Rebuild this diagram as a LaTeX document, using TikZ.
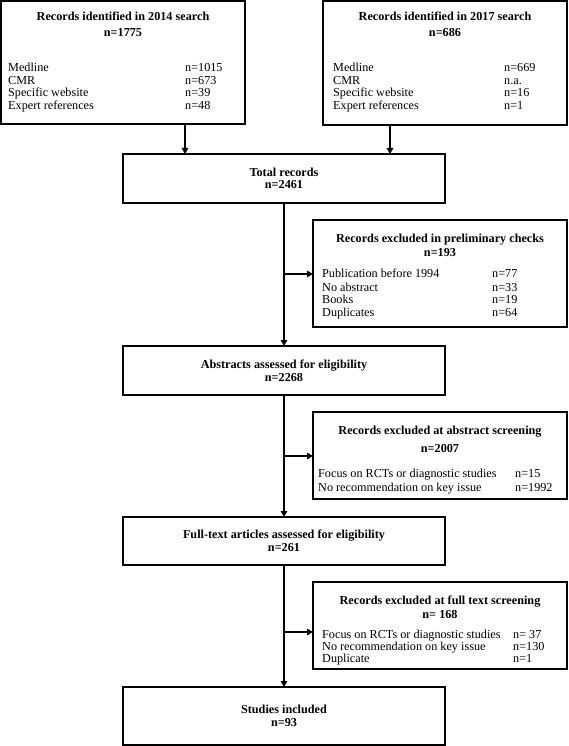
\documentclass[tikz,border=0pt]{standalone}
\usepackage{fontspec}
\setmainfont{Liberation Serif}
\usetikzlibrary{arrows.meta}
\begin{document}
\begin{tikzpicture}[x=1pt,y=-1pt,
  box/.style={draw, line width=1.1pt, rectangle, inner sep=0pt, outer sep=0pt, anchor=north west},
  txt/.style={inner sep=0pt, anchor=base west, font=\fontsize{12.2}{14}\selectfont},
  ttl/.style={inner sep=0pt, anchor=base, font=\fontsize{12.2}{14}\selectfont\bfseries},
  arr/.style={line width=1.6pt, -{Triangle[length=6pt,width=6.5pt]}}]
\useasboundingbox (0,0) rectangle (568,746);

% boxes
\node[box, minimum width=244pt, minimum height=123pt] (b14) at (1,1) {};
\node[box, minimum width=244pt, minimum height=124pt] (b17) at (323,1) {};
\node[box, minimum width=322pt, minimum height=49pt] (tot) at (123,154) {};
\node[box, minimum width=254pt, minimum height=107pt] (pre) at (313,220) {};
\node[box, minimum width=322pt, minimum height=49pt] (abs) at (123,346) {};
\node[box, minimum width=254pt, minimum height=87pt] (ascr) at (313,412) {};
\node[box, minimum width=322pt, minimum height=48pt] (ft) at (123,517) {};
\node[box, minimum width=254pt, minimum height=87pt] (fscr) at (313,582) {};
\node[box, minimum width=322pt, minimum height=58pt] (inc) at (123,687) {};

% box 2014
\node[ttl] (t14a) at (123,21) {Records identified in 2014 search};
\node[ttl] (t14b) at (123,37) {n=1775};
\node[txt] (l14a) at (8,72) {Medline};
\node[txt] (l14b) at (8,85) {CMR};
\node[txt] (l14c) at (8,97) {Specific website};
\node[txt] (l14d) at (8,110) {Expert references};
\node[txt] (n14a) at (185,72) {n=1015};
\node[txt] (n14b) at (185,85) {n=673};
\node[txt] (n14c) at (185,97) {n=39};
\node[txt] (n14d) at (185,110) {n=48};

% box 2017
\node[ttl] (t17a) at (445,21) {Records identified in 2017 search};
\node[ttl] (t17b) at (445,37) {n=686};
\node[txt] (l17a) at (333,72) {Medline};
\node[txt] (l17b) at (333,85) {CMR};
\node[txt] (l17c) at (333,97) {Specific website};
\node[txt] (l17d) at (333,110) {Expert references};
\node[txt] (n17a) at (504,72) {n=669};
\node[txt] (n17b) at (504,85) {n.a.};
\node[txt] (n17c) at (504,97) {n=16};
\node[txt] (n17d) at (504,110) {n=1};

% total
\node[ttl] (tta) at (284,176) {Total records};
\node[ttl] (ttb) at (284,189) {n=2461};

% preliminary
\node[ttl] (pra) at (440,242) {Records excluded in preliminary checks};
\node[ttl] (prb) at (440,256) {n=193};
\node[txt] (pl1) at (322,277) {Publication before 1994};
\node[txt] (pl2) at (322,291) {No abstract};
\node[txt] (pl3) at (322,303) {Books};
\node[txt] (pl4) at (322,316) {Duplicates};
\node[txt] (pn1) at (492,277) {n=77};
\node[txt] (pn2) at (492,291) {n=33};
\node[txt] (pn3) at (492,303) {n=19};
\node[txt] (pn4) at (492,316) {n=64};

% abstracts
\node[ttl] (aba) at (284,368) {Abstracts assessed for eligibility};
\node[ttl] (abb) at (284,381) {n=2268};

% abstract screening
\node[ttl] (asa) at (440,434) {Records excluded at abstract screening};
\node[ttl] (asb) at (440,452) {n=2007};
\node[txt] (al1) at (318,477) {Focus on RCTs or diagnostic studies};
\node[txt] (al2) at (318,491) {No recommendation on key issue};
\node[txt] (an1) at (515,477) {n=15};
\node[txt] (an2) at (515,491) {n=1992};

% full text
\node[ttl] (fta) at (284,538.5) {Full-text articles assessed for eligibility};
\node[ttl] (ftb) at (284,551.5) {n=261};

% full text screening
\node[ttl] (fsa) at (440,604) {Records excluded at full text screening};
\node[ttl] (fsb) at (440,618) {n= 168};
\node[txt] (fl1) at (322,638) {Focus on RCTs or diagnostic studies};
\node[txt] (fl2) at (322,650) {No recommendation on key issue};
\node[txt] (fl3) at (322,662) {Duplicate};
\node[txt] (fn1) at (513,638) {n= 37};
\node[txt] (fn2) at (513,650) {n=130};
\node[txt] (fn3) at (513,662) {n=1};

% included
\node[ttl] (ina) at (284,713.5) {Studies included};
\node[ttl] (inb) at (284,726.5) {n=93};

% connectors
\coordinate (c14) at (185,0);
\coordinate (c17) at (390,0);
\draw[arr] (c14 |- b14.south) -- (c14 |- tot.north);
\draw[arr] (c17 |- b17.south) -- (c17 |- tot.north);
\draw[arr] (tot) -- (abs);
\draw[arr] (abs) -- (ft);
\draw[arr] (ft) -- (inc);
\coordinate (j1) at (284,274);
\coordinate (j2) at (284,456);
\coordinate (j3) at (284,632);
\draw[arr] (j1) -- (j1 -| pre.west);
\draw[arr] (j2) -- (j2 -| ascr.west);
\draw[arr] (j3) -- (j3 -| fscr.west);
\end{tikzpicture}
\end{document}
